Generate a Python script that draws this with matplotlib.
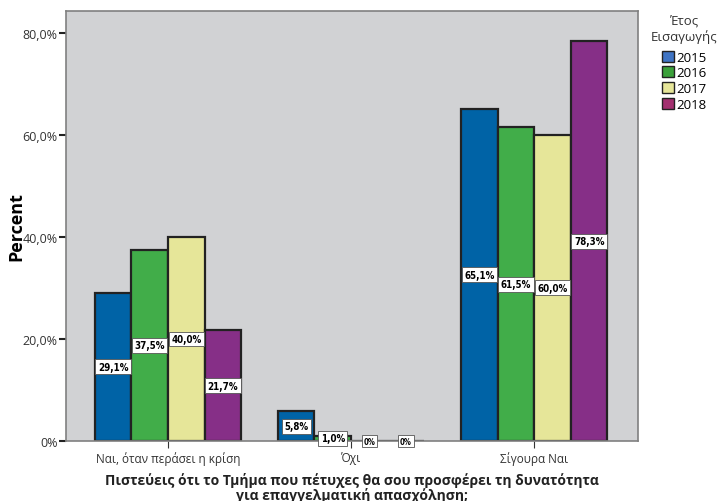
import matplotlib.pyplot as plt
import numpy as np
from matplotlib.patches import Patch

# Survey answers per year of entry (percent within year)
categories = ['Ναι, όταν περάσει η κρίση', 'Όχι', 'Σίγουρα Ναι']
years = ['2015', '2016', '2017', '2018']
pct_2015 = [29.1, 5.8, 65.1]
pct_2016 = [37.5, 1.0, 61.5]
pct_2017 = [40.0, 0.0, 60.0]
pct_2018 = [21.7, 0.0, 78.3]
yticks = [0, 20, 40, 60, 80]
ytick_labels = ['0%', '20,0%', '40,0%', '60,0%', '80,0%']

bar_colors = ['#0063a6', '#41ad49', '#e6e699', '#862f87']
legend_colors = ['#3f74c4', '#3aa03a', '#e6e699', '#a33070']

plt.rcParams['font.family'] = ['Open Sans', 'DejaVu Sans']

fig = plt.figure(figsize=(7.18, 5.02), dpi=100)
ax = fig.add_axes([0.0919, 0.1195, 0.797, 0.857])
ax.set_facecolor('#d1d2d4')

series = [pct_2015, pct_2016, pct_2017, pct_2018]
x = np.arange(len(categories))
width = 0.2
for i, vals in enumerate(series):
    pos = x + (i - 1.5) * width
    ax.bar(pos, vals, width, color=bar_colors[i], edgecolor='#222222',
           linewidth=1.6, zorder=2)
    for px, v in zip(pos, vals):
        txt = '0%' if v == 0 else f'{v:.1f}%'.replace('.', ',')
        ax.text(px, v / 2, txt, ha='center', va='center',
                fontsize=5.5 if v == 0 else 7, fontweight='bold',
                family='DejaVu Sans', stretch='condensed', zorder=4,
                bbox=dict(boxstyle='square,pad=0.25', fc='white',
                          ec='#555555', lw=0.6))

ax.set_xlim(-0.557, 2.568)
ax.set_ylim(0, 84.3)
ax.set_yticks(yticks)
ax.set_yticklabels(ytick_labels, fontsize=9, color='#333333')
ax.set_xticks(x)
ax.set_xticklabels(categories, fontsize=8.5, color='#333333')
ax.tick_params(axis='y', length=5, width=1.5, color='#222222', pad=1)
ax.tick_params(axis='x', length=5, width=0.8, color='#333333', pad=2)
for s in ax.spines.values():
    s.set_color('#808080')
    s.set_linewidth(1.2)

ax.set_ylabel('Percent', fontsize=13, fontweight='bold', labelpad=-2)
ax.set_xlabel('Πιστεύεις ότι το Τμήμα που πέτυχες θα σου προσφέρει τη δυνατότητα\n'
              'για επαγγελματική απασχόληση;', fontsize=10, fontweight='bold',
              color='#222222', labelpad=5, linespacing=1.05)

# legend title drawn separately so it stays centred inside the right margin
fig.text(0.953, 0.97, 'Έτος\nΕισαγωγής', ha='center', va='top',
         fontsize=9.5, color='#333333', linespacing=1.2)
handles = [Patch(facecolor=c, edgecolor='#222222', linewidth=1) for c in legend_colors]
fig.legend(handles, years, loc='upper left', bbox_to_anchor=(0.922, 0.897),
           frameon=False, fontsize=9.5, handlelength=0.9, handleheight=0.9,
           handletextpad=0.2, labelspacing=0.2, borderpad=0, borderaxespad=0)

fig.savefig('out.png', dpi=100)
